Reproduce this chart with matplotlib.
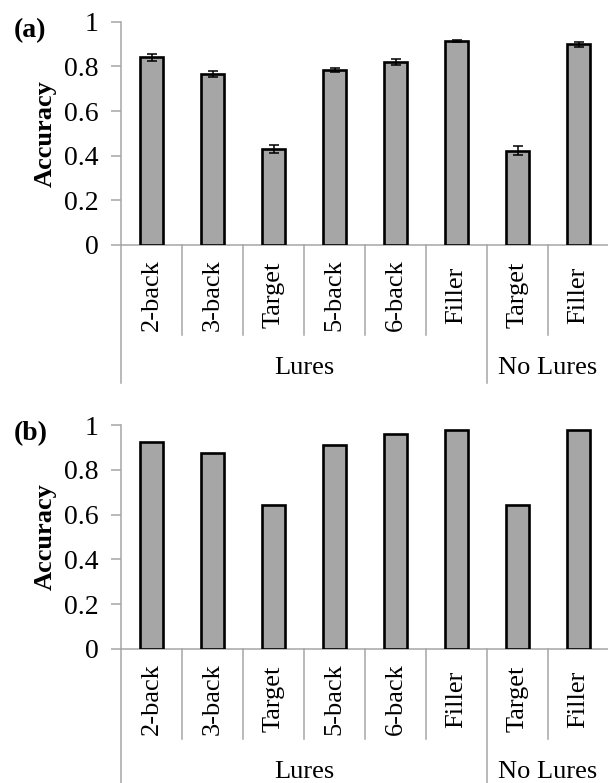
import matplotlib
matplotlib.use("Agg")
import matplotlib.pyplot as plt
from matplotlib.transforms import blended_transform_factory

# Figure size in pixels (dpi = 100)
W, H = 608, 783

categories = ["2-back", "3-back", "Target", "5-back", "6-back", "Filler", "Target", "Filler"]
groups = ["Lures", "No Lures"]
group_sizes = [6, 2]

acc_a = [0.840, 0.766, 0.428, 0.784, 0.818, 0.913, 0.422, 0.898]
err_a = [0.015, 0.013, 0.018, 0.008, 0.013, 0.006, 0.020, 0.010]
acc_b = [0.926, 0.874, 0.641, 0.911, 0.959, 0.978, 0.641, 0.978]

yticks = [0, 0.2, 0.4, 0.6, 0.8, 1]
ytick_labels = ["0", "0.2", "0.4", "0.6", "0.8", "1"]

plt.rcParams["font.family"] = ["Liberation Serif", "DejaVu Serif"]
AXIS_GREY = "#A6A6A6"
BAR_GREY = "#A6A6A6"


def fy(py):
    """pixel row (from top) -> figure fraction"""
    return 1 - py / H


def draw_panel(fig, top_px, base_px, values, errors, letter):
    left_px, right_px = 121, 609
    ax = fig.add_axes([left_px / W, fy(base_px), (right_px - left_px) / W,
                       (base_px - top_px) / H])
    x = list(range(len(categories)))
    ax.bar(x, values, width=0.39, color=BAR_GREY, edgecolor="black", linewidth=1.9,
           zorder=3)
    if errors is not None:
        ax.errorbar(x, values, yerr=errors, fmt="none", ecolor="black", elinewidth=1.1,
                    capsize=3.5, capthick=1.1, zorder=4)
    ax.set_xlim(-0.5, len(categories) - 0.5)
    ax.set_ylim(0, 1)
    ax.set_yticks(yticks)
    ax.set_yticklabels(ytick_labels, fontsize=20)
    ax.set_xticks([])
    for s in ["top", "right"]:
        ax.spines[s].set_visible(False)
    for s in ["left", "bottom"]:
        ax.spines[s].set_color(AXIS_GREY)
        ax.spines[s].set_linewidth(1.1)
    ax.tick_params(axis="y", direction="out", length=7, width=1.1, color=AXIS_GREY, pad=9)
    ax.set_ylabel("Accuracy", fontsize=19, fontweight="bold", labelpad=5)

    trans = blended_transform_factory(ax.transData, fig.transFigure)
    # category labels and dividers
    for i, lab in enumerate(categories):
        ax.text(i, fy(base_px + 50), lab, rotation=90, ha="center", va="center",
                fontsize=19, transform=trans)
    group_edges = [-0.5]
    for g in group_sizes:
        group_edges.append(group_edges[-1] + g)
    for k in range(len(categories) - 1):
        xd = k + 0.5
        end = base_px + 138 if xd in group_edges else base_px + 90
        ax.plot([xd, xd], [fy(base_px), fy(end)], color=AXIS_GREY, lw=1.1,
                transform=trans, clip_on=False)
    ax.plot([-0.5, -0.5], [fy(base_px), fy(base_px + 138)], color=AXIS_GREY, lw=1.1,
            transform=trans, clip_on=False)
    # group labels
    for gi, name in enumerate(groups):
        cx = (group_edges[gi] + group_edges[gi + 1]) / 2
        ax.text(cx, fy(base_px + 123), name, ha="center", va="center", fontsize=19,
                transform=trans)
    # panel letter
    fig.text(14 / W, fy(top_px - 4), letter, fontsize=20, fontweight="bold",
             ha="left", va="top")
    return ax


fig = plt.figure(figsize=(W / 100, H / 100), dpi=100)
draw_panel(fig, 21.7, 245, acc_a, err_a, "(a)")
draw_panel(fig, 425, 649, acc_b, None, "(b)")
fig.savefig("out.png", dpi=100)
